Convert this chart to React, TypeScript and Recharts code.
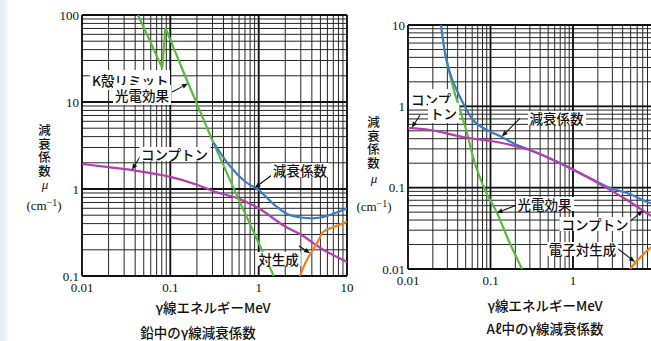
import React from 'react';
import { ComposedChart, Line, XAxis, YAxis, CartesianGrid, ReferenceLine } from 'recharts';

// ---------- Lead (left chart) ----------
const pbXDecades = [0.01, 0.1, 1, 10];
const pbXLabels = ['0.01', '0.1', '1', '10'];
const pbYDecades = [0.1, 1, 10, 100];
const pbYLabels = ['0.1', '1', '10', '100'];

const pbPhotoE = [0.043, 0.06, 0.081, 0.088, 0.15, 0.3, 0.6, 1.0, 1.48];
const pbPhotoMu = [100, 48, 24.5, 71, 19, 3.6, 0.74, 0.24, 0.1];

const pbTotalE = [0.31, 0.4, 0.5, 0.7, 1, 1.5, 2, 3, 4, 5, 7, 10];
const pbTotalMu = [3.4, 2.3, 1.72, 1.22, 0.97, 0.66, 0.53, 0.47, 0.46, 0.47, 0.52, 0.6];

const pbComptonE = [0.01, 0.02, 0.04, 0.07, 0.1, 0.2, 0.3, 0.6, 1, 2, 3, 5, 10];
const pbComptonMu = [1.94, 1.78, 1.63, 1.48, 1.38, 1.12, 0.95, 0.77, 0.6, 0.37, 0.3, 0.21, 0.145];

const pbPairE = [2.94, 3.2, 3.6, 4.12, 4.7, 5.35, 7.3, 10];
const pbPairMu = [0.1, 0.125, 0.16, 0.2, 0.25, 0.32, 0.37, 0.42];

// ---------- Aluminium (right chart) ----------
const alXDecades = [0.01, 0.1, 1, 10];
const alXLabels = ['0.01', '0.1', '1', ''];
const alYDecades = [0.01, 0.1, 1, 10];
const alYLabels = ['0.01', '0.1', '1', '10'];

const alTotalE = [0.0251, 0.0281, 0.0323, 0.0389, 0.0464, 0.0614, 0.0907, 0.13, 0.2095, 0.301, 0.695, 1.48, 2.81, 4.52, 8.58, 10];
const alTotalMu = [10, 4.53, 2.57, 1.59, 1.1, 0.679, 0.512, 0.432, 0.334, 0.29, 0.201, 0.137, 0.099, 0.086, 0.0648, 0.062];

const alComptonE = [0.01, 0.0185, 0.0464, 0.12, 0.3, 0.695, 1.48, 2.81, 4.52, 8.58, 10];
const alComptonMu = [0.542, 0.512, 0.42, 0.364, 0.29, 0.2, 0.135, 0.094, 0.0705, 0.046, 0.042];

const alPhotoE = [0.0281, 0.0351, 0.0427, 0.0519, 0.0614, 0.0858, 0.12, 0.163, 0.241];
const alPhotoMu = [4.53, 1.73, 0.9, 0.47, 0.238, 0.0936, 0.0488, 0.0234, 0.01];

const alPairE = [4.9, 6.5, 8.58, 10];
const alPairMu = [0.01, 0.0138, 0.0181, 0.02];

// arrows: [tailE, tailMu, headE, headMu]
const pbArrows = [
  [0.1045, 13.0, 0.1585, 16.3],
  [0.049, 2.66, 0.0368, 1.66],
  [1.416, 1.45, 0.9, 1.03],
  [2.86, 0.221, 3.81, 0.182],
];
const alArrows = [
  [0.014, 0.782, 0.0111, 0.545],
  [0.228, 0.713, 0.137, 0.425],
  [0.2077, 0.0612, 0.119, 0.049],
  [4.64, 0.0367, 7.05, 0.0524],
  [3.41, 0.0181, 5.65, 0.0122],
];

const MULTS = [1, 2, 3, 4, 5, 6, 7, 8, 9];

const zip = (xs: number[], ys: number[]) => xs.map((x, i) => ({ x, y: ys[i] }));
const makeTicks = (dec: number[]) =>
  dec.flatMap((d, i) => (i === dec.length - 1 ? [d] : MULTS.map((m) => +(d * m).toPrecision(6))));
const makeFmt = (dec: number[], labels: string[]) => (v: number) => {
  const i = dec.findIndex((d) => Math.abs(d - v) / d < 1e-6);
  return i >= 0 ? labels[i] : '';
};

const GREEN = '#5cba3e';
const BLUE = '#3b7bc8';
const MAGENTA = '#b43fac';
const ORANGE = '#f0801e';

const arrowShape = (p: any) => {
  const { x1, y1, x2, y2 } = p;
  const ang = Math.atan2(y2 - y1, x2 - x1);
  const L = 6;
  const W = 2.4;
  const bx = x2 - L * Math.cos(ang);
  const by = y2 - L * Math.sin(ang);
  const pts = `${x2},${y2} ${bx + W * Math.sin(ang)},${by - W * Math.cos(ang)} ${bx - W * Math.sin(ang)},${by + W * Math.cos(ang)}`;
  return (
    <g>
      <line x1={x1} y1={y1} x2={bx} y2={by} stroke="#111" strokeWidth={1.1} />
      <polygon points={pts} fill="#111" />
    </g>
  );
};

const tickStyle = { fontSize: 13, fill: '#111', fontFamily: '"Liberation Serif", "DejaVu Serif", serif' };

type Series = { data: { x: number; y: number }[]; color: string; type: 'linear' | 'monotone' };

const LogChart = (props: {
  left: number;
  width: number;
  margin: { top: number; right: number; bottom: number; left: number };
  xDec: number[];
  xLabels: string[];
  yDec: number[];
  yLabels: string[];
  series: Series[];
  arrows: number[][];
}) => {
  const { xDec, yDec } = props;
  const xDomain = [xDec[0], xDec[xDec.length - 1]];
  const yDomain = [yDec[0], yDec[yDec.length - 1]];
  return (
    <div style={{ position: 'absolute', left: props.left, top: 0 }}>
      <ComposedChart width={props.width} height={341} margin={props.margin}>
        <CartesianGrid stroke="#262626" strokeWidth={1} />
        <XAxis
          type="number"
          dataKey="x"
          scale="log"
          domain={xDomain}
          allowDataOverflow
          ticks={makeTicks(xDec)}
          interval={0}
          tickFormatter={makeFmt(xDec, props.xLabels)}
          axisLine={false}
          tickLine={false}
          tickSize={0}
          tickMargin={7}
          height={20}
          tick={tickStyle}
        />
        <YAxis
          type="number"
          dataKey="y"
          scale="log"
          domain={yDomain}
          allowDataOverflow
          ticks={makeTicks(yDec)}
          interval={0}
          tickFormatter={makeFmt(yDec, props.yLabels)}
          axisLine={false}
          tickLine={false}
          tickSize={0}
          tickMargin={3}
          width={30}
          tick={tickStyle}
        />
        {xDec.map((d) => (
          <ReferenceLine key={'vx' + d} x={d} stroke="#111" strokeWidth={1.8} />
        ))}
        {yDec.map((d) => (
          <ReferenceLine key={'hy' + d} y={d} stroke="#111" strokeWidth={1.8} />
        ))}
        {props.series.map((s, i) => (
          <Line
            key={i}
            data={s.data}
            dataKey="y"
            type={s.type}
            stroke={s.color}
            strokeWidth={2.2}
            dot={false}
            activeDot={false}
            isAnimationActive={false}
          />
        ))}
        {props.arrows.map((a, i) => (
          <ReferenceLine
            key={'ar' + i}
            segment={[
              { x: a[0], y: a[1] },
              { x: a[2], y: a[3] },
            ]}
            shape={arrowShape}
          />
        ))}
      </ComposedChart>
    </div>
  );
};

const cjk = '"Noto Sans CJK JP", "Noto Sans", sans-serif';
const serif = '"Liberation Serif", "DejaVu Serif", serif';

const Tag = ({ x, y, text, bg = true, size = 13.5, font = cjk, lh = 14 }: { x: number; y: number; text: React.ReactNode; bg?: boolean; size?: number; font?: string; lh?: number }) => (
  <div
    style={{
      position: 'absolute',
      left: x,
      top: y,
      transform: 'translate(-50%, -50%)',
      fontFamily: font,
      fontSize: size,
      lineHeight: lh + 'px',
      color: '#111',
      background: bg ? '#fff' : 'transparent',
      padding: bg ? '0 2px' : 0,
      whiteSpace: 'nowrap',
      fontWeight: 500,
    }}
  >
    {text}
  </div>
);

// two-line label in a single text block; second line shifted right by `shift`
const Tag2 = ({ x, y, a, b, shift, lh = 14.5 }: { x: number; y: number; a: string; b: string; shift: number; lh?: number }) => (
  <div
    style={{
      position: 'absolute',
      left: x,
      top: y,
      fontFamily: cjk,
      fontSize: 13.5,
      lineHeight: lh + 'px',
      color: '#111',
      whiteSpace: 'nowrap',
      fontWeight: 500,
    }}
  >
    <span style={{ background: '#fff', padding: '0 2px' }}>{a}</span>
    <br />
    <span style={{ background: '#fff', padding: '0 2px', marginLeft: shift }}>{b}</span>
  </div>
);

const VTitle = ({ x, yMid, yMu }: { x: number; yMid: number; yMu: number }) => (
  <>
    <div
      style={{
        position: 'absolute',
        left: x,
        top: yMid,
        transform: 'translate(-50%, -50%)',
        writingMode: 'vertical-rl',
        fontFamily: cjk,
        fontSize: 12.5,
        letterSpacing: '1px',
        lineHeight: '14px',
        color: '#111',
        fontWeight: 500,
      }}
    >
      減衰係数
    </div>
    <Tag x={x + 1} y={yMu} text={<i>μ</i>} bg={false} size={13} font={serif} lh={12} />
  </>
);

const Unit = ({ x, y }: { x: number; y: number }) => (
  <Tag
    x={x}
    y={y}
    bg={false}
    size={13}
    font={serif}
    lh={13}
    text={
      <span>
        (cm<span style={{ fontSize: 10, verticalAlign: '4px' }}>−1</span>)
      </span>
    }
  />
);

export default function App() {
  const leftSeries: Series[] = [
    { data: zip(pbComptonE, pbComptonMu), color: MAGENTA, type: 'monotone' },
    { data: zip(pbPhotoE, pbPhotoMu), color: GREEN, type: 'linear' },
    { data: zip(pbTotalE, pbTotalMu), color: BLUE, type: 'monotone' },
    { data: zip(pbPairE, pbPairMu), color: ORANGE, type: 'monotone' },
  ];
  const rightSeries: Series[] = [
    { data: zip(alPhotoE, alPhotoMu), color: GREEN, type: 'monotone' },
    { data: zip(alTotalE, alTotalMu), color: BLUE, type: 'monotone' },
    { data: zip(alComptonE, alComptonMu), color: MAGENTA, type: 'monotone' },
    { data: zip(alPairE, alPairMu), color: ORANGE, type: 'monotone' },
  ];
  return (
    <div
      style={{
        position: 'absolute',
        left: 0,
        top: 0,
        width: 651,
        height: 341,
        overflow: 'hidden',
        background: 'linear-gradient(to right, #e2edf6 0px, #e9f1f8 5px, #ffffff 9px)',
      }}
    >
      <LogChart
        left={0}
        width={360}
        margin={{ top: 15, right: 13, bottom: 45, left: 52 }}
        xDec={pbXDecades}
        xLabels={pbXLabels}
        yDec={pbYDecades}
        yLabels={pbYLabels}
        series={leftSeries}
        arrows={pbArrows}
      />
      <LogChart
        left={340}
        width={330}
        margin={{ top: 25, right: 14.5, bottom: 52, left: 38 }}
        xDec={alXDecades}
        xLabels={alXLabels}
        yDec={alYDecades}
        yLabels={alYLabels}
        series={rightSeries}
        arrows={alArrows}
      />

      {/* left chart annotations */}
      <Tag2 x={90} y={72.5} a="K殻リミット" b="光電効果" shift={23} lh={15} />
      <Tag x={174.5} y={153.5} text="コンプトン" />
      <Tag x={300} y={170} text="減衰係数" />
      <Tag x={278.5} y={259} text="対生成" />
      <VTitle x={44} yMid={150.5} yMu={185} />
      <Unit x={44} y={204} />
      <Tag x={213} y={307} text="γ線エネルギーMeV" bg={false} size={13.5} />
      <Tag x={198} y={332} text="鉛中のγ線減衰係数" bg={false} size={13.5} />

      {/* right chart annotations */}
      <Tag2 x={409} y={92} a="コンプ" b="トン" shift={19} lh={14} />
      <Tag x={556.5} y={118} text="減衰係数" />
      <Tag x={544.5} y={203.5} text="光電効果" />
      <Tag x={595} y={224} text="コンプトン" />
      <Tag x={582.5} y={249} text="電子対生成" />
      <VTitle x={373} yMid={142.5} yMu={179} />
      <Unit x={374} y={205} />
      <Tag x={545} y={305} text="γ線エネルギーMeV" bg={false} size={13.5} />
      <Tag x={545} y={328} text="Aℓ中のγ線減衰係数" bg={false} size={13.5} />
    </div>
  );
}
